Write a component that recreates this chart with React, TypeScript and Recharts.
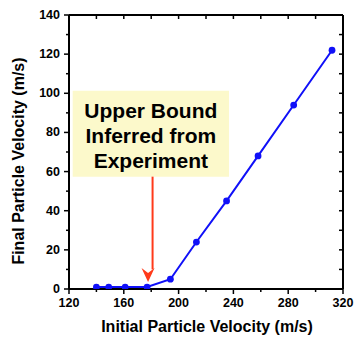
import React from "react";
import {
  LineChart,
  Line,
  XAxis,
  YAxis,
  ReferenceArea,
  ReferenceLine,
  ReferenceDot,
} from "recharts";

const initialVelocity = [140, 149, 161, 177, 194, 213, 235, 258, 284, 312];
const finalVelocity = [1, 1, 1, 1, 5, 24, 45, 68, 94, 122];
const xTicks = [120, 140, 160, 180, 200, 220, 240, 260, 280, 300, 320];
const yTicks = [0, 10, 20, 30, 40, 50, 60, 70, 80, 90, 100, 110, 120, 130, 140];
const xLabeled = [120, 160, 200, 240, 280, 320];
const yLabeled = [0, 20, 40, 60, 80, 100, 120, 140];
const annotationLines = ["Upper Bound", "Inferred from", "Experiment"];
const xTitle = "Initial Particle Velocity (m/s)";
const yTitle = "Final Particle Velocity (m/s)";

const data = initialVelocity.map((x, i) => ({ x, y: finalVelocity[i] }));

const FONT = "'Liberation Sans', Arial, sans-serif";
const BLUE = "#1010f8";
const RED = "#ff3a1a";

const LeftTick = (props: any) => {
  const { x, y, payload } = props;
  const v = payload.value;
  const major = yLabeled.includes(v);
  return (
    <g>
      <line x1={x - (major ? 5 : 3)} x2={x} y1={y} y2={y} stroke="#000" strokeWidth={1.5} />
      {major && (
        <text x={x - 9} y={y} textAnchor="end" dominantBaseline="central" fontFamily={FONT} fontWeight="bold" fontSize={12.5} fill="#000">
          {v}
        </text>
      )}
    </g>
  );
};

const BottomTick = (props: any) => {
  const { x, y, payload } = props;
  const v = payload.value;
  const major = xLabeled.includes(v);
  return (
    <g>
      <line x1={x} x2={x} y1={y} y2={y + (major ? 5 : 3)} stroke="#000" strokeWidth={1.5} />
      {major && (
        <text x={x} y={y + 18} textAnchor="middle" fontFamily={FONT} fontWeight="bold" fontSize={12.5} fill="#000">
          {v}
        </text>
      )}
    </g>
  );
};

const TopTick = (props: any) => {
  const { x, y, payload } = props;
  const v = payload.value;
  if (v === 120 || v === 320) return <g />;
  return <line x1={x} x2={x} y1={y} y2={y + 4} stroke="#000" strokeWidth={1.5} />;
};

const RightTick = (props: any) => {
  const { x, y, payload } = props;
  const v = payload.value;
  if (v === 0 || v === 140) return <g />;
  return <line x1={x - 4} x2={x} y1={y} y2={y} stroke="#000" strokeWidth={1.5} />;
};

const AnnotationText = (props: any) => {
  const vb = props.viewBox || {};
  const cx = vb.x + vb.width / 2;
  const top = vb.y;
  return (
    <g>
      {annotationLines.map((t, i) => (
        <text
          key={t}
          x={cx}
          y={top + 27.5 + i * 24.7}
          textAnchor="middle"
          fontFamily={FONT}
          fontWeight="bold"
          fontSize={21}
          fill="#000"
        >
          {t}
        </text>
      ))}
    </g>
  );
};

const ArrowHead = (props: any) => {
  const { cx, cy } = props;
  if (cx == null || cy == null) return <g />;
  const pts = `${cx - 6.5},${cy - 7} ${cx},${cy - 2} ${cx + 6.5},${cy - 7} ${cx},${cy + 7}`;
  return <polygon points={pts} fill={RED} stroke="none" />;
};

export default function App() {
  return (
    <div style={{ position: "absolute", left: 0, top: 0, width: 355, height: 339, background: "#fff" }}>
      <LineChart width={355} height={339} data={data} margin={{ top: 0, right: 0, bottom: 0, left: 0 }}>
        <XAxis
          xAxisId="bottom"
          dataKey="x"
          type="number"
          domain={[120, 320]}
          ticks={xTicks}
          interval={0}
          height={50}
          stroke="#000"
          strokeWidth={2}
          tickLine={false}
          tickSize={0}
          tickMargin={0}
          tick={<BottomTick />}
          allowDataOverflow
          label={{
            content: () => (
              <text x={207} y={332} textAnchor="middle" fontFamily={FONT} fontWeight="bold" fontSize={16} fill="#000">
                {xTitle}
              </text>
            ),
          }}
        />
        <XAxis
          xAxisId="top"
          orientation="top"
          dataKey="x"
          type="number"
          domain={[120, 320]}
          ticks={xTicks}
          interval={0}
          height={15}
          stroke="#000"
          strokeWidth={2}
          tickLine={false}
          tickSize={0}
          tickMargin={0}
          tick={<TopTick />}
          allowDataOverflow
        />
        <YAxis
          yAxisId="left"
          type="number"
          domain={[0, 140]}
          ticks={yTicks}
          interval={0}
          width={69}
          stroke="#000"
          strokeWidth={2}
          tickLine={false}
          tickSize={0}
          tickMargin={0}
          tick={<LeftTick />}
          allowDataOverflow
          label={{
            content: () => (
              <text
                transform="translate(24,161) rotate(-90)"
                textAnchor="middle"
                fontFamily={FONT}
                fontWeight="bold"
                fontSize={16}
                fill="#000"
              >
                {yTitle}
              </text>
            ),
          }}
        />
        <YAxis
          yAxisId="right"
          orientation="right"
          type="number"
          domain={[0, 140]}
          ticks={yTicks}
          interval={0}
          width={12}
          stroke="#000"
          strokeWidth={2}
          tickLine={false}
          tickSize={0}
          tickMargin={0}
          tick={<RightTick />}
          allowDataOverflow
        />
        <ReferenceArea
          xAxisId="bottom"
          yAxisId="left"
          x1={122.7}
          x2={236.8}
          y1={57.4}
          y2={101.3}
          fill="#fcf9cb"
          fillOpacity={1}
          stroke="none"
          label={<AnnotationText />}
        />
        <ReferenceLine
          xAxisId="bottom"
          yAxisId="left"
          segment={[
            { x: 181, y: 57.4 },
            { x: 181, y: 10 },
          ]}
          stroke={RED}
          strokeWidth={2}
        />
        <ReferenceDot
          xAxisId="bottom"
          yAxisId="left"
          x={177.7}
          y={7.2}
          r={0}
          shape={<ArrowHead />}
        />
        <Line
          xAxisId="top"
          yAxisId="right"
          dataKey="y"
          stroke="none"
          dot={false}
          activeDot={false}
          isAnimationActive={false}
        />
        <Line
          xAxisId="bottom"
          yAxisId="left"
          dataKey="y"
          stroke={BLUE}
          strokeWidth={2}
          dot={{ r: 3.4, fill: BLUE, stroke: BLUE, strokeWidth: 0 }}
          activeDot={false}
          isAnimationActive={false}
        />
      </LineChart>
    </div>
  );
}
